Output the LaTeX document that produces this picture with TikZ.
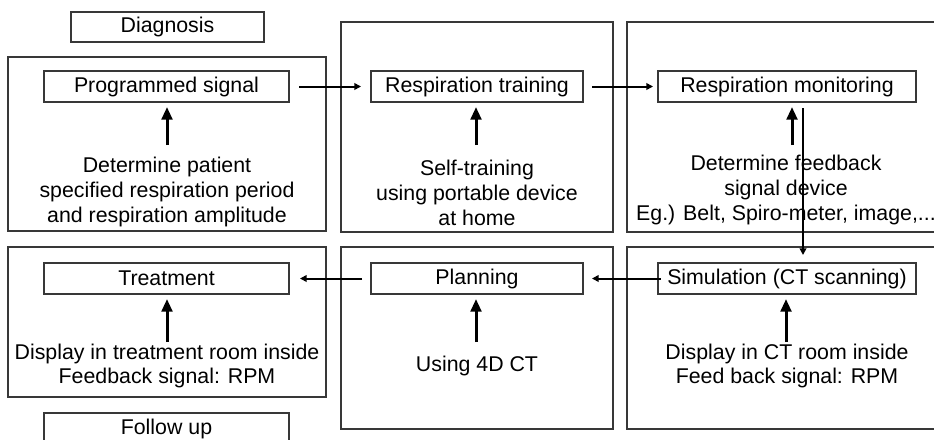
\documentclass[tikz,border=0pt]{standalone}
\usepackage{fontspec}
\setmainfont{Liberation Sans}
\usetikzlibrary{arrows.meta}
\begin{document}
\begin{tikzpicture}[x=0.75pt,y=-0.75pt,
  txt/.style={font=\fontsize{16}{18.5}\selectfont, align=center, inner sep=0pt},
  frame/.style 2 args={draw=black!78, line width=0.85pt, minimum width=#1*0.75pt, minimum height=#2*0.75pt, inner sep=0pt, outer sep=0pt},
  stepbox/.style 2 args={draw=black!78, line width=0.85pt, minimum width=#1*0.75pt, minimum height=#2*0.75pt, inner sep=0pt, outer sep=0pt, font=\fontsize{16}{18}\selectfont},
  flow/.style={line width=1.5pt, -{Triangle[width=5pt,length=5pt]}},
  uparrow/.style={line width=2.25pt, -{Triangle[width=8pt,length=9.5pt]}}
]
\path[fill=white,use as bounding box] (0,0) rectangle (934,439);

% frames
\node[frame={318}{174}] (f1) at (167,144) {};
\node[frame={272}{210}] (f2) at (477,127) {};
\node[frame={340}{210}] (f3) at (797,127) {};
\node[frame={318}{150}] (f4) at (167,322) {};
\node[frame={272}{182}] (f5) at (477,338) {};
\node[frame={340}{182}] (f6) at (797,338) {};

% title boxes
\node[stepbox={193}{30}] (diag) at (167.5,27) {Diagnosis};
\node[stepbox={245}{31}] (follow) at (166.5,428.5) {Follow up};

% step boxes
\node[stepbox={245}{31}] (prog) at (166.5,86.5) {Programmed signal};
\node[stepbox={212}{31}] (train) at (477,86.5) {Respiration training};
\node[stepbox={258}{31}] (mon) at (787,86.5) {Respiration monitoring};
\node[stepbox={245}{31}] (treat) at (166.5,278.5) {Treatment};
\node[stepbox={212}{31}] (plan) at (477,278.5) {Planning};
\node[stepbox={258}{31}] (sim) at (787,278.5) {Simulation (CT scanning)};

% descriptions
\node[txt] (d1) at (167,192) {Determine patient\\specified respiration period\\and respiration amplitude};
\node[txt] (d2) at (477,193) {Self-training\\using portable device\\at home};
\node[txt] (d3) at (786,190) {Determine feedback\\signal device\\Eg.) Belt, Spiro-meter, image,...};
\node[txt] (d4) at (167,366) {Display in treatment room inside\\Feedback signal: RPM};
\node[txt] (d5) at (477,366) {Using 4D CT};
\node[txt] (d6) at (787,366) {Display in CT room inside\\Feed back signal: RPM};

% arrow start points
\coordinate (a1) at (167,145);
\coordinate (a2) at (476,145);
\coordinate (a3) at (792,145);
\coordinate (a4) at (167,342);
\coordinate (a5) at (476,342);
\coordinate (a6) at (786,342);

\draw[uparrow] (a1) -- ([yshift=-3.75pt]a1 |- prog.south);
\draw[uparrow] (a2) -- ([yshift=-3.75pt]a2 |- train.south);
\draw[uparrow] (a3) -- ([yshift=-3.75pt]a3 |- mon.south);
\draw[uparrow] (a4) -- ([yshift=-3.75pt]a4 |- treat.south);
\draw[uparrow] (a5) -- ([yshift=-3.75pt]a5 |- plan.south);
\draw[uparrow] (a6) -- ([yshift=-3.75pt]a6 |- sim.south);

% flow arrows
\draw[flow, shorten <=7.5pt, shorten >=7.5pt] (prog.east) -- (train.west);
\draw[flow, shorten <=6.75pt, shorten >=3.75pt] (train.east) -- (mon.west);
\draw[flow, line width=1.2pt] ([xshift=12pt,yshift=-4.5pt]mon.south) -- ([xshift=12pt,yshift=6pt]sim.north);
\draw[flow, shorten <=-2pt, shorten >=6.75pt] (sim.west) -- (plan.east);
\draw[flow, shorten <=6.75pt, shorten >=8.25pt] (plan.west) -- (treat.east);
\end{tikzpicture}
\end{document}
